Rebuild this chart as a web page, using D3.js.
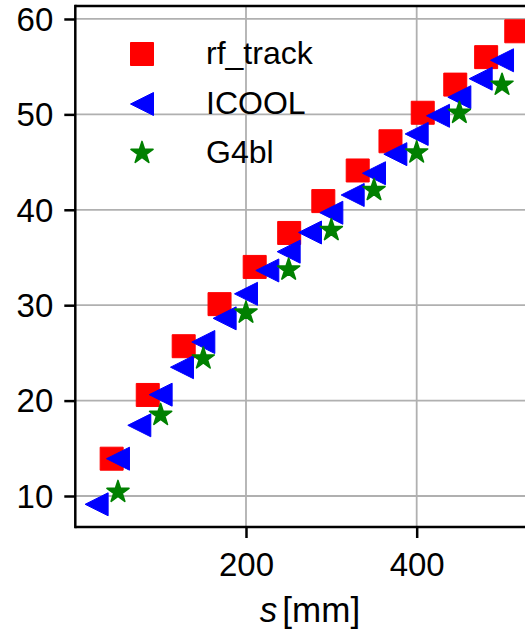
<!DOCTYPE html>
<html>
<head>
<meta charset="utf-8">
<script src="https://cdn.jsdelivr.net/npm/d3@7/dist/d3.min.js"></script>
<style>
  html, body { margin: 0; padding: 0; background: #fff; }
  svg { display: block; }
</style>
</head>
<body>
<svg id="chart" width="525" height="630"></svg>
<script>
// ---- data ----
const rfTrackS = [42.6, 84.9, 127.0, 169.0, 210.2, 250.6, 290.6, 330.9, 369.3, 407.1, 445.2, 481.4, 516.7];
const rfTrackV = [13.91, 20.59, 25.70, 30.11, 34.01, 37.57, 40.91, 44.12, 47.18, 50.17, 53.12, 56.00, 58.71];

const icoolS = [25, 50, 75, 100, 125, 150, 175, 200, 225, 250, 275, 300, 325, 350, 375, 400, 425, 450, 475, 500];
const icoolV = [9.13, 13.91, 17.41, 20.62, 23.50, 26.14, 28.62, 31.19, 33.64, 35.61, 37.62, 39.69, 41.55, 43.83, 45.83, 47.95, 49.85, 51.80, 53.74, 55.67];

const g4blS = [50, 100, 150, 200, 250, 300, 350, 400, 450, 500];
const g4blV = [10.42, 18.49, 24.41, 29.21, 33.72, 37.86, 42.06, 46.00, 50.15, 53.10];

const xTicks = [200, 400];
const yTicks = [10, 20, 30, 40, 50, 60];
const seriesNames = ["rf_track", "ICOOL", "G4bl"];
const seriesColors = ["#ff0000", "#0000ff", "#008000"];
const xLabelVar = "s";
const xLabelUnit = "[mm]";

// ---- layout ----
const svg = d3.select("#chart");
const plotLeft = 75.3, plotTop = 6, plotBottom = 527, plotRight = 544.7;
const x = d3.scaleLinear().domain([0, 550]).range([plotLeft, plotRight]);
const y = d3.scaleLinear().domain([6.75, 61.36]).range([plotBottom, plotTop]);
const font = "'Liberation Sans', Arial, sans-serif";

// clip
svg.append("defs").append("clipPath").attr("id", "clip")
  .append("rect").attr("x", plotLeft).attr("y", plotTop)
  .attr("width", plotRight - plotLeft).attr("height", plotBottom - plotTop);

// grid
const grid = svg.append("g").attr("clip-path", "url(#clip)");
grid.selectAll("line.gx").data(xTicks).join("line")
  .attr("x1", d => x(d)).attr("x2", d => x(d))
  .attr("y1", plotTop).attr("y2", plotBottom)
  .attr("stroke", "#b0b0b0").attr("stroke-width", 1.8);
grid.selectAll("line.gy").data(yTicks).join("line")
  .attr("x1", plotLeft).attr("x2", plotRight)
  .attr("y1", d => y(d)).attr("y2", d => y(d))
  .attr("stroke", "#b0b0b0").attr("stroke-width", 1.8);

// marker symbol generators
const r = 11.5;
function squarePath() {
  return `M${-r},${-r}H${r}V${r}H${-r}Z`;
}
function triLeftPath() {
  return `M${-r},0L${r},${-r}L${r},${r}Z`;
}
function starPath(R) {
  const inner = R * 0.381966;
  let p = "";
  for (let i = 0; i < 10; i++) {
    const rad = i % 2 === 0 ? R : inner;
    const a = -Math.PI / 2 + i * Math.PI / 5;
    p += (i === 0 ? "M" : "L") + (rad * Math.cos(a)).toFixed(2) + "," + (rad * Math.sin(a)).toFixed(2);
  }
  return p + "Z";
}
const markerPaths = [squarePath(), triLeftPath(), starPath(11.6)];
const markerStroke = [1, 1, 1.6];

const series = [
  { s: rfTrackS, v: rfTrackV },
  { s: icoolS, v: icoolV },
  { s: g4blS, v: g4blV }
];

const marks = svg.append("g").attr("clip-path", "url(#clip)");
series.forEach((ser, i) => {
  const pts = ser.s.map((sv, k) => [sv, ser.v[k]]);
  marks.append("g").selectAll("path").data(pts).join("path")
    .attr("d", markerPaths[i])
    .attr("transform", d => `translate(${x(d[0])},${y(d[1])})`)
    .attr("fill", seriesColors[i])
    .attr("stroke", seriesColors[i])
    .attr("stroke-width", markerStroke[i])
    .attr("stroke-linejoin", "round");
});

// axes
const xAxis = svg.append("g").attr("transform", `translate(0,${plotBottom})`)
  .call(d3.axisBottom(x).tickValues(xTicks).tickSize(11).tickPadding(15).tickSizeOuter(0));
const yAxis = svg.append("g").attr("transform", `translate(${plotLeft},0)`)
  .call(d3.axisLeft(y).tickValues(yTicks).tickSize(11).tickPadding(11).tickSizeOuter(0));
[xAxis, yAxis].forEach(ax => {
  ax.select(".domain").remove();
  ax.selectAll(".tick line").attr("stroke", "#000").attr("stroke-width", 2.5);
  ax.selectAll(".tick text").attr("fill", "#000")
    .style("font-family", font).style("font-size", "33px");
});
yAxis.selectAll(".tick text").attr("dy", "0.34em");

// spines
svg.append("line").attr("x1", plotLeft).attr("x2", plotLeft)
  .attr("y1", plotTop - 1.25).attr("y2", plotBottom + 1.25)
  .attr("stroke", "#000").attr("stroke-width", 2.5);
svg.append("line").attr("x1", plotLeft).attr("x2", plotRight)
  .attr("y1", plotBottom).attr("y2", plotBottom)
  .attr("stroke", "#000").attr("stroke-width", 2.5);
svg.append("line").attr("x1", plotLeft).attr("x2", plotRight)
  .attr("y1", plotTop).attr("y2", plotTop)
  .attr("stroke", "#000").attr("stroke-width", 2.5);
svg.append("line").attr("x1", plotRight).attr("x2", plotRight)
  .attr("y1", plotTop).attr("y2", plotBottom)
  .attr("stroke", "#000").attr("stroke-width", 2.5);

// legend
const legend = svg.append("g");
const legY = [54, 104, 153];
seriesNames.forEach((name, i) => {
  legend.append("path").attr("d", markerPaths[i])
    .attr("transform", `translate(142,${legY[i]})`)
    .attr("fill", seriesColors[i]).attr("stroke", seriesColors[i])
    .attr("stroke-width", markerStroke[i]).attr("stroke-linejoin", "round");
  legend.append("text").attr("x", 206).attr("y", legY[i] + 9.5)
    .style("font-family", font).style("font-size", "32px")
    .attr("fill", "#000").text(name);
});

// x label
const xl = svg.append("text")
  .attr("x", (plotLeft + plotRight) / 2).attr("y", 622)
  .attr("text-anchor", "middle")
  .style("font-family", font).style("font-size", "35px").attr("fill", "#000");
xl.append("tspan").style("font-style", "italic").text(xLabelVar);
xl.append("tspan").attr("dx", 5).text(xLabelUnit);
</script>
</body>
</html>
